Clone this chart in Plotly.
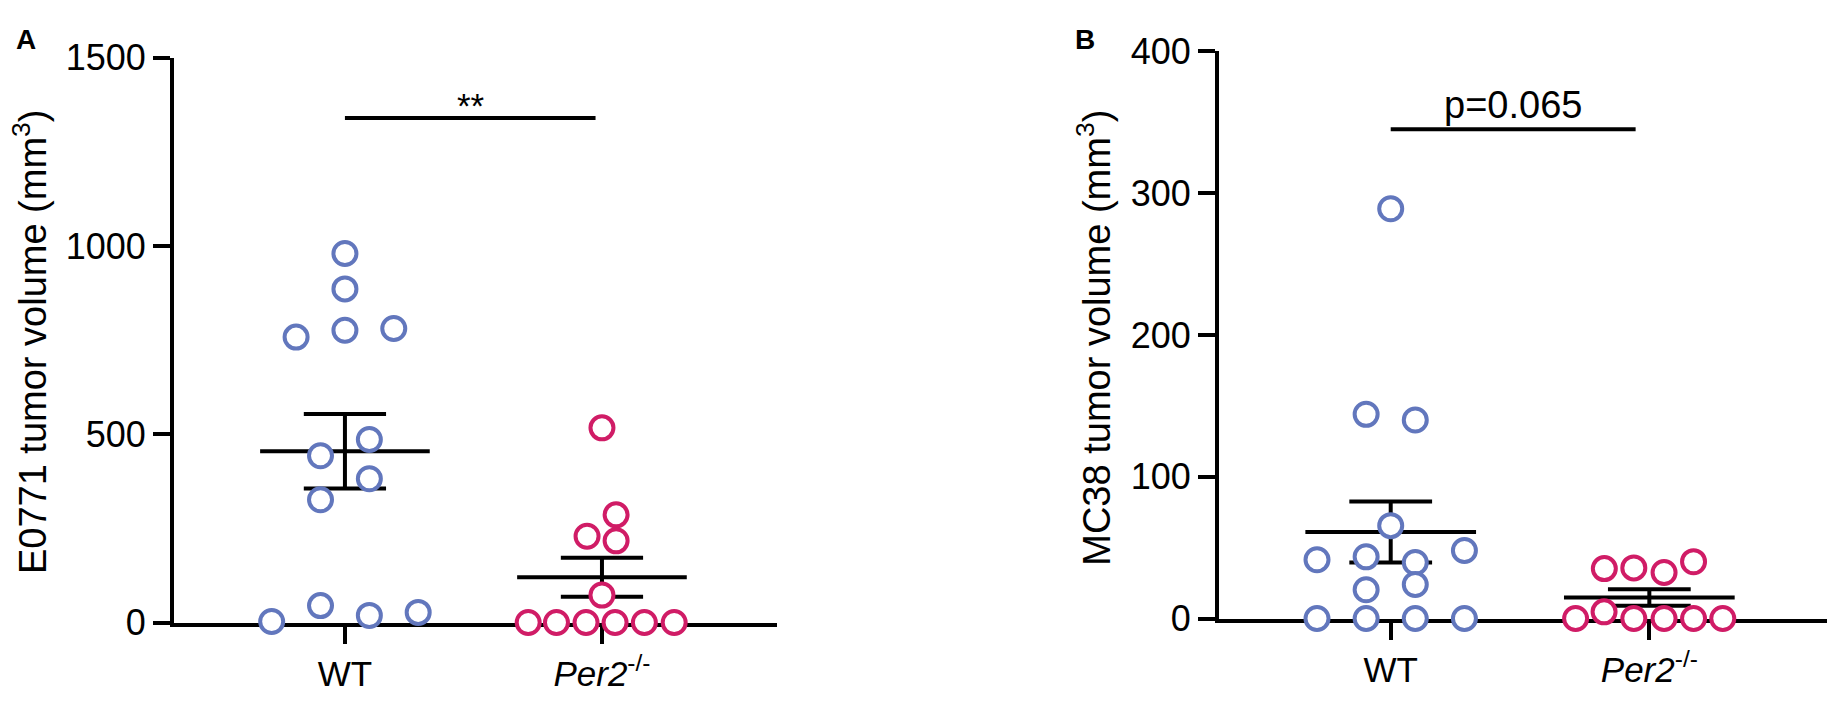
import numpy as np
import plotly.graph_objects as go

# panel A: E0771 tumor volume (mm3)
a_wt = [980, 886, 776, 781, 758, 486, 443, 382, 326, 45, 3, 19, 27]
a_wt_dx = [0, 0, 0, 0.19, -0.19, 0.095, -0.095, 0.095, -0.095, -0.095, -0.285, 0.095, 0.285]
a_ko = [517, 286, 229, 217, 73, 0, 0, 0, 0, 0, 0]
a_ko_dx = [0, 0.055, -0.058, 0.055, 0, -0.287, -0.177, -0.062, 0.051, 0.165, 0.281]

# panel B: MC38 tumor volume (mm3)
b_wt = [289, 144, 140, 65.5, 41.4, 43.5, 39.5, 48, 20.3, 24, 0, 0, 0, 0]
b_wt_dx = [0, -0.095, 0.095, 0, -0.285, -0.095, 0.095, 0.285, -0.095, 0.095, -0.285, -0.095, 0.095, 0.285]
b_ko = [35.2, 35.7, 32.5, 40.1, 4.7, 0, 0, 0, 0, 0]
b_ko_dx = [-0.174, -0.06, 0.057, 0.171, -0.175, -0.285, -0.06, 0.057, 0.171, 0.284]

groups = ['WT', '<i>Per2</i><sup>-/-</sup>']
blue = '#6277BD'
pink = '#D01C66'
font = 'Arial, Liberation Sans, sans-serif'

fig = go.Figure()


def add_group(vals, dx, pos, color, xa, ya):
    vals = np.array(vals, dtype=float)
    m = vals.mean()
    s = vals.std(ddof=1) / np.sqrt(len(vals))
    # mean +- sem
    fig.add_trace(go.Scatter(
        x=[pos - 0.33, pos + 0.33, None, pos, pos, None, pos - 0.16, pos + 0.16, None, pos - 0.16, pos + 0.16],
        y=[m, m, None, m - s, m + s, None, m + s, m + s, None, m - s, m - s],
        mode='lines', line=dict(color='black', width=4), xaxis=xa, yaxis=ya,
        showlegend=False, hoverinfo='skip', cliponaxis=False))
    fig.add_trace(go.Scatter(
        x=[pos + d for d in dx], y=vals, mode='markers', xaxis=xa, yaxis=ya,
        marker=dict(symbol='circle', size=23, color='white', line=dict(color=color, width=4)),
        showlegend=False, cliponaxis=False))


add_group(a_wt, a_wt_dx, 1, blue, 'x', 'y')
add_group(a_ko, a_ko_dx, 2, pink, 'x', 'y')
add_group(b_wt, b_wt_dx, 1, blue, 'x2', 'y2')
add_group(b_ko, b_ko_dx, 2, pink, 'x2', 'y2')

# significance bars
fig.add_trace(go.Scatter(x=[1, 1.975], y=[1340, 1340], mode='lines', line=dict(color='black', width=4),
                         xaxis='x', yaxis='y', showlegend=False, hoverinfo='skip'))
fig.add_trace(go.Scatter(x=[1, 1.947], y=[345, 345], mode='lines', line=dict(color='black', width=4),
                         xaxis='x2', yaxis='y2', showlegend=False, hoverinfo='skip'))

axis_style = dict(showline=True, linecolor='black', linewidth=4, ticks='outside', ticklen=17,
                  tickwidth=4, tickcolor='black', showgrid=False, zeroline=False, layer='below traces')

fig.update_layout(
    width=1827, height=701, margin=dict(l=0, r=0, t=0, b=0),
    plot_bgcolor='white', paper_bgcolor='white', showlegend=False, hovermode=False,
    font=dict(family=font, color='black'),
    xaxis=dict(domain=[0.09524, 0.42529], range=[0.335, 2.681], tickvals=[1, 2], ticktext=groups,
               tickfont=dict(size=35), anchor='y', **axis_style),
    yaxis=dict(domain=[0.08702, 0.94294], range=[0, 1500], tickvals=[0, 500, 1000, 1500],
               tickfont=dict(size=36), anchor='x', **axis_style),
    xaxis2=dict(domain=[0.66721, 1.0], range=[0.336, 2.687], tickvals=[1, 2], ticktext=groups,
                tickfont=dict(size=35), anchor='y2', **axis_style),
    yaxis2=dict(domain=[0.09315, 0.9525], range=[0, 400], tickvals=[0, 100, 200, 300, 400],
                tickfont=dict(size=36), anchor='x2', **axis_style),
)

fig.add_annotation(x=1.49, y=1374, xref='x', yref='y', text='**', showarrow=False,
                   font=dict(size=35), xanchor='center', yanchor='middle')
fig.add_annotation(x=1.471, y=362, xref='x2', yref='y2', text='p=0.065', showarrow=False,
                   font=dict(size=38), xanchor='center', yanchor='middle')

# y axis titles
fig.add_annotation(x=30 / 1827, y=0.512, xref='paper', yref='paper', textangle=-90,
                   text='E0771 tumor volume (mm<sup>3</sup>)', showarrow=False,
                   font=dict(size=38), xanchor='center', yanchor='middle')
fig.add_annotation(x=1094 / 1827, y=0.5186, xref='paper', yref='paper', textangle=-90,
                   text='MC38 tumor volume (mm<sup>3</sup>)', showarrow=False,
                   font=dict(size=38), xanchor='center', yanchor='middle')

# panel letters
fig.add_annotation(x=25.7 / 1827, y=1 - 21.2 / 701, xref='paper', yref='paper', text='<b>A</b>',
                   showarrow=False, font=dict(size=28), xanchor='center', yanchor='middle')
fig.add_annotation(x=1084.5 / 1827, y=1 - 21.2 / 701, xref='paper', yref='paper', text='<b>B</b>',
                   showarrow=False, font=dict(size=28), xanchor='center', yanchor='middle')

fig.write_html("out.html", config={'displayModeBar': False},
               post_script="document.body.style.margin='0px';document.body.style.overflow='hidden';")
